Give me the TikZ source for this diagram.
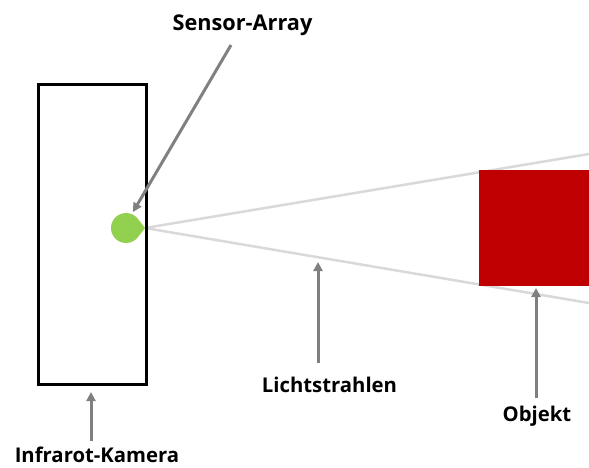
\documentclass[tikz,border=0pt]{standalone}
\usepackage{fontspec}
\setmainfont{Open Sans}
\usetikzlibrary{arrows.meta}
\definecolor{camblack}{HTML}{000000}
\definecolor{sensorgreen}{HTML}{92D050}
\definecolor{raygray}{HTML}{D9D9D9}
\definecolor{objred}{HTML}{C00000}
\definecolor{pointergray}{HTML}{808080}
\tikzset{
  label text/.style={font=\bfseries\fontsize{20.3}{24}\selectfont, inner sep=0pt, anchor=base},
  big label text/.style={label text, font=\bfseries\fontsize{21.7}{26}\selectfont},
  pointer/.style={draw=pointergray, line width=3pt, -{Triangle[length=9pt,width=9pt]}},
  ray/.style={draw=raygray, line width=2.5pt},
}
\begin{document}
\begin{tikzpicture}[x=1pt,y=-1pt]
  \useasboundingbox (0,0) rectangle (589,467);

  % light rays leaving the sensor
  \coordinate (tip) at (145,228);
  \coordinate (rayTop) at (589,154);
  \coordinate (rayBot) at (589,303);
  \draw[ray] (tip) -- (rayTop);
  \draw[ray] (tip) -- (rayBot);

  % camera housing
  \node[draw=camblack, line width=2.5pt, minimum width=108pt, minimum height=300pt, inner sep=0pt]
    (camera) at (92.5,234.5) {};

  % object
  \node[fill=objred, minimum width=110pt, minimum height=116pt, inner sep=0pt, anchor=north west]
    (object) at (479,170) {};

  % sensor (teardrop)
  \coordinate (sensorC) at (126,228);
  \fill[sensorgreen] (tip) -- ([shift={(sensorC)}]38:15) arc[start angle=38, end angle=322, radius=15] -- cycle;

  % labels
  \node[big label text] (lblSensor) at (242.5,30) {Sensor-Array};
  \node[label text] (lblCamera) at (97,462) {Infrarot-Kamera};
  \node[label text] (lblRays) at (329.5,392) {Lichtstrahlen};
  \node[label text] (lblObject) at (537,421) {Objekt};

  % pointers
  \coordinate (pSensorA) at (231,45);
  \coordinate (pSensorB) at (133,212);
  \draw[pointer] (pSensorA) -- (pSensorB);
  \coordinate (pCamA) at (91,441);
  \coordinate (pCamB) at (91,392);
  \draw[pointer] (pCamA) -- (pCamB);
  \coordinate (pRayA) at (318,363);
  \coordinate (pRayB) at (318,262);
  \draw[pointer] (pRayA) -- (pRayB);
  \coordinate (pObjA) at (536,398);
  \coordinate (pObjB) at (536,288);
  \draw[pointer] (pObjA) -- (pObjB);
\end{tikzpicture}
\end{document}
